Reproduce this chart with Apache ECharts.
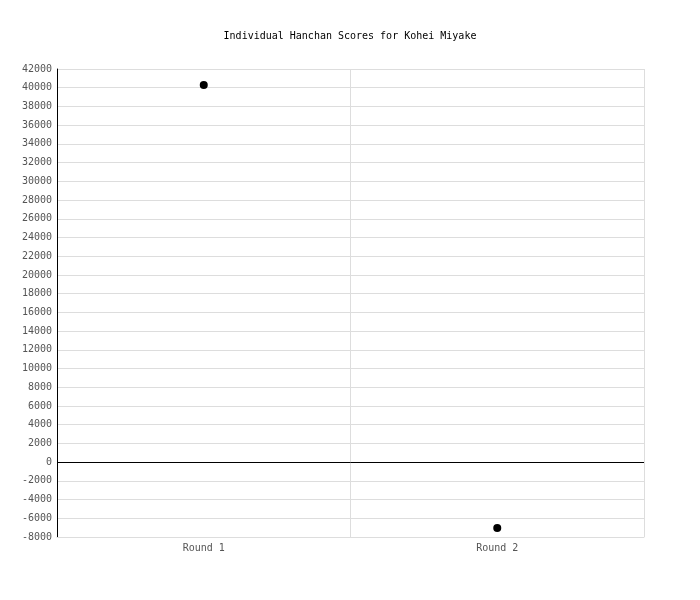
<!DOCTYPE html>
<html>
<head>
<meta charset="utf-8">
<script src="https://cdn.jsdelivr.net/npm/echarts@6/dist/echarts.min.js"></script>
<style>
  html, body { margin: 0; padding: 0; background: #fff; }
  #chart { width: 700px; height: 600px; }
</style>
</head>
<body>
<div id="chart"></div>
<script>
// data
var rounds = ['Round 1', 'Round 2'];
var scores = [40300, -7050];
var yMin = -8000, yMax = 42000, yStep = 2000;

var font = 'DejaVu Sans Mono';
var chart = echarts.init(document.getElementById('chart'));

chart.setOption({
    backgroundColor: '#fff',
    animation: false,
    title: {
        text: 'Individual Hanchan Scores for Kohei Miyake',
        left: 'center',
        top: 26,
        textStyle: { fontFamily: font, fontSize: 10, fontWeight: 'normal', color: '#000' }
    },
    grid: { left: 57, right: 56, top: 69, bottom: 63 },
    xAxis: {
        type: 'category',
        data: rounds,
        boundaryGap: true,
        axisLine: { onZero: false, lineStyle: { color: '#ddd' } },
        axisTick: { show: false },
        axisLabel: { fontFamily: font, fontSize: 10, color: '#555', margin: 6 },
        splitLine: { show: true, lineStyle: { color: '#ddd' } }
    },
    yAxis: {
        type: 'value',
        min: yMin,
        max: yMax,
        interval: yStep,
        axisLine: { show: true, lineStyle: { color: '#000' } },
        axisTick: { show: false },
        axisLabel: {
            fontFamily: font, fontSize: 10, color: '#555', margin: 5,
            formatter: function (v) { return String(v); }
        },
        splitLine: { lineStyle: { color: '#ddd' } }
    },
    series: [{
        type: 'scatter',
        data: scores,
        symbol: 'circle',
        symbolSize: 8,
        itemStyle: { color: '#000', opacity: 1 },
        markLine: {
            silent: true,
            symbol: 'none',
            label: { show: false },
            lineStyle: { color: '#000', type: 'solid', width: 1 },
            data: [{ yAxis: 0 }]
        }
    }]
});
</script>
</body>
</html>
